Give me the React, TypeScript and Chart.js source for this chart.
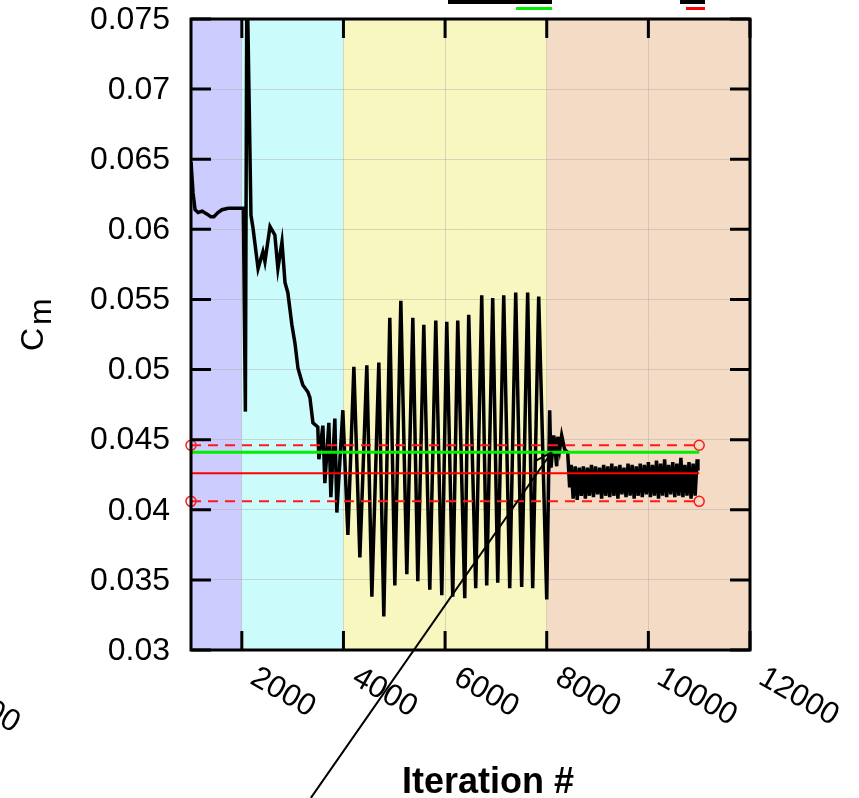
import { useEffect, useRef } from 'react';
import { Chart, registerables } from 'chart.js';

Chart.register(...registerables);

// ---------- data ----------
const iterations = [
  1000, 1040, 1080, 1140, 1220, 1310, 1390, 1450, 1530, 1610, 1730, 1880, 2030,
  2070, 2100, 2180, 2220, 2320, 2415, 2455, 2555, 2650, 2710, 2790, 2850, 2905,
  2985, 3045, 3105, 3200, 3300, 3340, 3400, 3495,
  3516, 3595, 3634, 3713, 3752, 3831, 3870, 3988,
  4087, 4205, 4323, 4460, 4559, 4696, 4794, 4912, 5011, 5129, 5247, 5365, 5463,
  5581, 5699, 5817, 5935, 6033, 6151, 6249, 6387, 6465, 6603, 6721, 6819, 6937,
  7036, 7154, 7272, 7390, 7507, 7625, 7724, 7842, 8000,
  8058, 8085, 8137, 8196, 8215, 8255, 8294, 8353, 8412, 8451,
  8480, 8520, 8560, 8600, 8640, 8680, 8720, 8760, 8800, 8840, 8880, 8920, 8960,
  9000, 9040, 9080, 9120, 9160, 9200, 9240, 9280, 9320, 9360, 9400, 9440, 9480,
  9520, 9560, 9600, 9640, 9680, 9720, 9760, 9800, 9840, 9880, 9920, 9960, 10000,
  10040, 10080, 10120, 10160, 10200, 10240, 10280, 10320, 10360, 10400, 10440,
  10480, 10520, 10560, 10600, 10640, 10680, 10720, 10760, 10800, 10840, 10880,
  10920, 10960, 10975,
];
const cmValues = [
  0.0648, 0.0626, 0.0614, 0.0612, 0.0613, 0.0611, 0.0609, 0.0609, 0.0612, 0.0614, 0.0615, 0.0615, 0.0615,
  0.0470, 0.0790, 0.0610, 0.0601, 0.0572, 0.0584, 0.0577, 0.0602, 0.0596, 0.0572, 0.0591, 0.0562, 0.0555,
  0.0532, 0.0519, 0.0501, 0.0489, 0.0484, 0.0480, 0.0462, 0.0459,
  0.0436, 0.0460, 0.0419, 0.0462, 0.0409, 0.0465, 0.0398, 0.0471,
  0.0382, 0.0502, 0.0366, 0.0503, 0.0338, 0.0505, 0.0324, 0.0537, 0.0346, 0.0549, 0.0354, 0.0537, 0.0349,
  0.0532, 0.0343, 0.0535, 0.0339, 0.0534, 0.0338, 0.0535, 0.0337, 0.0539, 0.0344, 0.0553, 0.0346, 0.0551,
  0.0348, 0.0553, 0.0344, 0.0555, 0.0345, 0.0555, 0.0344, 0.0552, 0.0336,
  0.0471, 0.0430, 0.0453, 0.0431, 0.0452, 0.0443, 0.0453, 0.0443, 0.0441, 0.0416,
  0.0432, 0.0408, 0.0431, 0.0407, 0.0430, 0.0410, 0.0431, 0.0408, 0.0430, 0.0410, 0.0432, 0.0409, 0.0431,
  0.0411, 0.0430, 0.0408, 0.0432, 0.0410, 0.0431, 0.0409, 0.0433, 0.0410, 0.0431, 0.0408, 0.0432, 0.0411,
  0.0430, 0.0409, 0.0433, 0.0410, 0.0432, 0.0408, 0.0431, 0.0410, 0.0433, 0.0409, 0.0432, 0.0411, 0.0434,
  0.0409, 0.0432, 0.0410, 0.0435, 0.0408, 0.0433, 0.0410, 0.0436, 0.0409, 0.0432, 0.0411,
  0.0434, 0.0409, 0.0433, 0.0410, 0.0437, 0.0409, 0.0432, 0.0410, 0.0434, 0.0408, 0.0433,
  0.0410, 0.0436, 0.0428,
];

const xMin = 1000;
const xMax = 12000;
const yMin = 0.03;
const yMax = 0.075;
const xTicks = [2000, 4000, 6000, 8000, 10000, 12000];
const xTickLabels = ['2000', '4000', '6000', '8000', '10000', '12000'];
const yTicks = [0.03, 0.035, 0.04, 0.045, 0.05, 0.055, 0.06, 0.065, 0.07, 0.075];
const yTickLabels = ['0.03', '0.035', '0.04', '0.045', '0.05', '0.055', '0.06', '0.065', '0.07', '0.075'];

const bandEdges = [1000, 2000, 4000, 8000, 12000];
const bandColors = ['#ccccff', '#ccfbfb', '#f7f7bf', '#f4dbc5'];

const refStart = 1000;
const refEnd = 11000;
const targetCm = 0.0441;
const meanCm = 0.0426;
const upperCm = 0.0446;
const lowerCm = 0.0406;

const arrowFrom = [3359, 0.01945];
const arrowTo = [8097, 0.0441];

const xTitle = 'Iteration #';
const yTitleMain = 'C';
const yTitleSub = 'm';

const FONT = '"Liberation Sans", Arial, Helvetica, sans-serif';

const decorPlugin = {
  id: 'decor',
  beforeDraw(chart: any) {
    const { ctx, chartArea: ca, scales } = chart;
    const xs = scales.x;
    ctx.save();
    for (let i = 0; i < bandColors.length; i++) {
      const a = xs.getPixelForValue(bandEdges[i]);
      const b = xs.getPixelForValue(bandEdges[i + 1]);
      ctx.fillStyle = bandColors[i];
      ctx.fillRect(a, ca.top, b - a, ca.bottom - ca.top);
    }
    ctx.restore();
  },
  afterDraw(chart: any) {
    const { ctx, chartArea: ca, scales } = chart;
    const xs = scales.x;
    const ys = scales.y;
    ctx.save();

    // arrow annotation
    const ax0 = xs.getPixelForValue(arrowFrom[0]);
    const ay0 = ys.getPixelForValue(arrowFrom[1]);
    const ax1 = xs.getPixelForValue(arrowTo[0]);
    const ay1 = ys.getPixelForValue(arrowTo[1]);
    ctx.strokeStyle = '#000';
    ctx.lineWidth = 2;
    ctx.beginPath();
    ctx.moveTo(ax0, ay0);
    ctx.lineTo(ax1, ay1);
    const ang = Math.atan2(ay0 - ay1, ax0 - ax1);
    for (const d of [-0.47, 0.47]) {
      ctx.moveTo(ax1, ay1);
      ctx.lineTo(ax1 + 20 * Math.cos(ang + d), ay1 + 20 * Math.sin(ang + d));
    }
    ctx.stroke();

    // frame
    ctx.lineWidth = 3;
    ctx.strokeStyle = '#000';
    ctx.strokeRect(ca.left, ca.top, ca.right - ca.left, ca.bottom - ca.top);

    // inner tick marks
    ctx.beginPath();
    yTicks.forEach((v) => {
      const py = ys.getPixelForValue(v);
      ctx.moveTo(ca.left, py);
      ctx.lineTo(ca.left + 20, py);
      ctx.moveTo(ca.right, py);
      ctx.lineTo(ca.right - 20, py);
    });
    xTicks.forEach((v) => {
      const px = xs.getPixelForValue(v);
      ctx.moveTo(px, ca.bottom);
      ctx.lineTo(px, ca.bottom - 19);
      ctx.moveTo(px, ca.top);
      ctx.lineTo(px, ca.top + 19);
    });
    ctx.stroke();

    // y tick labels
    ctx.fillStyle = '#000';
    ctx.font = `32px ${FONT}`;
    ctx.textAlign = 'right';
    ctx.textBaseline = 'middle';
    yTicks.forEach((v, i) => {
      ctx.fillText(yTickLabels[i], ca.left - 21, ys.getPixelForValue(v) + 1);
    });

    // x tick labels (rotated clockwise)
    ctx.font = `31px ${FONT}`;
    ctx.textAlign = 'left';
    ctx.textBaseline = 'top';
    xTicks.forEach((v, i) => {
      const px = xs.getPixelForValue(v);
      ctx.save();
      ctx.translate(px + 19, ca.bottom + 12);
      ctx.rotate(Math.PI / 6);
      ctx.fillText(xTickLabels[i], 0, 0);
      ctx.restore();
    });
    // clipped fragment of a label at the far left
    ctx.save();
    ctx.translate(-5, ca.bottom + 45);
    ctx.rotate(Math.PI / 6);
    ctx.fillText('00', 0, 0);
    ctx.restore();

    // x title
    ctx.font = `bold 36px ${FONT}`;
    ctx.textAlign = 'center';
    ctx.textBaseline = 'alphabetic';
    ctx.fillText(xTitle, 488, 793);

    // y title C_m
    ctx.font = `32px ${FONT}`;
    ctx.textAlign = 'left';
    ctx.save();
    ctx.translate(43, 351);
    ctx.rotate(-Math.PI / 2);
    ctx.fillText(yTitleMain, 0, 0);
    ctx.restore();
    ctx.save();
    ctx.translate(51, 325);
    ctx.rotate(-Math.PI / 2);
    ctx.fillText(yTitleSub, 0, 0);
    ctx.restore();

    // cut-off legend samples at the top
    ctx.lineCap = 'butt';
    ctx.lineWidth = 4;
    ctx.strokeStyle = '#000';
    ctx.beginPath();
    ctx.moveTo(448, 2);
    ctx.lineTo(552, 2);
    ctx.moveTo(680, 2);
    ctx.lineTo(705, 2);
    ctx.stroke();
    ctx.lineWidth = 3;
    ctx.strokeStyle = '#00ee00';
    ctx.beginPath();
    ctx.moveTo(516, 8.5);
    ctx.lineTo(552, 8.5);
    ctx.stroke();
    ctx.strokeStyle = '#ff0000';
    ctx.beginPath();
    ctx.moveTo(686, 8.5);
    ctx.lineTo(705, 8.5);
    ctx.stroke();

    ctx.restore();
  },
};

export default function App() {
  const ref = useRef<HTMLCanvasElement | null>(null);

  useEffect(() => {
    if (!ref.current) return;
    const seg = (y: number) => [
      { x: refStart, y },
      { x: refEnd, y },
    ];
    const chart = new Chart(ref.current, {
      type: 'line',
      data: {
        datasets: [
          {
            data: iterations.map((x, i) => ({ x, y: cmValues[i] })),
            borderColor: '#000',
            borderWidth: 3.5,
            pointRadius: 0,
            tension: 0,
            order: 5,
          },
          {
            data: seg(targetCm),
            borderColor: '#00ee00',
            borderWidth: 3,
            pointRadius: 0,
            order: 1,
            clip: false,
          },
          {
            data: seg(meanCm),
            borderColor: '#ff0000',
            borderWidth: 2,
            pointRadius: 0,
            order: 1,
            clip: false,
          },
          {
            data: seg(upperCm),
            borderColor: '#ff1a1a',
            borderWidth: 2,
            borderDash: [10, 7],
            pointRadius: 5,
            pointBorderColor: '#ff1a1a',
            pointBackgroundColor: 'rgba(0,0,0,0)',
            pointBorderWidth: 1.5,
            order: 1,
            clip: false,
          },
          {
            data: seg(lowerCm),
            borderColor: '#ff1a1a',
            borderWidth: 2,
            borderDash: [10, 7],
            pointRadius: 5,
            pointBorderColor: '#ff1a1a',
            pointBackgroundColor: 'rgba(0,0,0,0)',
            pointBorderWidth: 1.5,
            order: 1,
            clip: false,
          },
        ],
      },
      options: {
        animation: false,
        responsive: false,
        events: [],
        layout: { padding: { left: 191, top: 19, right: 109, bottom: 148 } },
        plugins: { legend: { display: false }, tooltip: { enabled: false } },
        scales: {
          x: {
            type: 'linear',
            min: xMin,
            max: xMax,
            afterBuildTicks: (s: any) => {
              s.ticks = xTicks.map((v) => ({ value: v }));
            },
            ticks: { display: false },
            grid: { color: 'rgba(170,170,170,0.45)', lineWidth: 1, drawTicks: false },
            border: { display: false },
          },
          y: {
            type: 'linear',
            min: yMin,
            max: yMax,
            afterBuildTicks: (s: any) => {
              s.ticks = yTicks.map((v) => ({ value: v }));
            },
            ticks: { display: false },
            grid: { color: 'rgba(170,170,170,0.45)', lineWidth: 1, drawTicks: false },
            border: { display: false },
          },
        },
      },
      plugins: [decorPlugin],
    });
    return () => chart.destroy();
  }, []);

  return (
    <div style={{ position: 'absolute', left: 0, top: 0, width: 859, height: 798 }}>
      <canvas ref={ref} width={859} height={798} style={{ display: 'block' }} />
    </div>
  );
}
